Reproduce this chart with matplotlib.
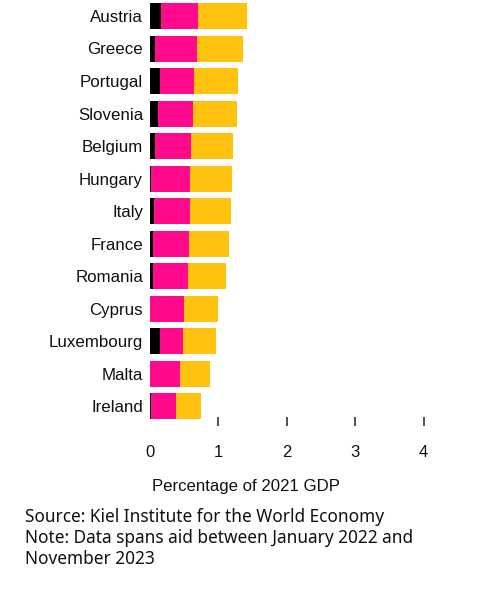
import matplotlib
matplotlib.use("Agg")
import matplotlib.pyplot as plt
import numpy as np

countries = ["Austria", "Greece", "Portugal", "Slovenia", "Belgium", "Hungary",
             "Italy", "France", "Romania", "Cyprus", "Luxembourg", "Malta", "Ireland"]
seg_black = [0.16, 0.08, 0.14, 0.11, 0.08, 0.02, 0.06, 0.05, 0.04, 0.00, 0.15, 0.00, 0.02]
seg_pink = [0.54, 0.60, 0.50, 0.52, 0.52, 0.57, 0.53, 0.52, 0.51, 0.50, 0.33, 0.44, 0.36]
seg_yellow = [0.72, 0.68, 0.65, 0.64, 0.62, 0.61, 0.59, 0.58, 0.56, 0.49, 0.49, 0.44, 0.37]
xticks = [0, 1, 2, 3, 4]

W, H = 492, 600
fig = plt.figure(figsize=(W / 100, H / 100), dpi=100)
fig.patch.set_facecolor("white")

ax_left, ax_right, ax_top, ax_bottom = 150, 485, 0, 426
ax = fig.add_axes([ax_left / W, 1 - ax_bottom / H, (ax_right - ax_left) / W, (ax_bottom - ax_top) / H])

y = np.arange(len(countries))
b = np.array(seg_black)
p = np.array(seg_pink)
yl = np.array(seg_yellow)
h = 0.8
ax.barh(y, b, height=h, color="#000000", linewidth=0)
ax.barh(y, p, left=b, height=h, color="#FF0A8C", linewidth=0)
ax.barh(y, yl, left=b + p, height=h, color="#FFC20E", linewidth=0)

ax.set_xlim(0, (ax_right - ax_left) / 68.4)
ax.set_ylim(12 + (ax_bottom - 406) / 32.5, -16 / 32.5)

for s in ax.spines.values():
    s.set_visible(False)

ax.set_yticks(y)
ax.set_yticklabels(countries, family=["Liberation Sans", "DejaVu Sans"], fontsize=12.2, color="#111111")
ax.tick_params(axis="y", length=0, pad=5)

ax.set_xticks(xticks)
ax.set_xticklabels([str(t) for t in xticks], family=["Liberation Sans", "DejaVu Sans"], fontsize=12, color="#111111")
ax.tick_params(axis="x", direction="in", length=6.5, width=1.2, color="#333333", pad=14)
ax.xaxis.get_major_ticks()[0].tick1line.set_visible(False)

fig.text(152 / W, 1 - 487 / H, "Percentage of 2021 GDP", ha="left", va="center",
         family=["Liberation Sans", "DejaVu Sans"], fontsize=12.1, color="#111111")

foot = dict(ha="left", va="center", family=["Noto Sans", "DejaVu Sans"], fontsize=12.4, color="#111111")
fig.text(25 / W, 1 - 517 / H, "Source: Kiel Institute for the World Economy", **foot)
fig.text(25 / W, 1 - 538 / H, "Note: Data spans aid between January 2022 and", **foot)
fig.text(25 / W, 1 - 559 / H, "November 2023", **foot)

fig.savefig("out.png", dpi=100)
